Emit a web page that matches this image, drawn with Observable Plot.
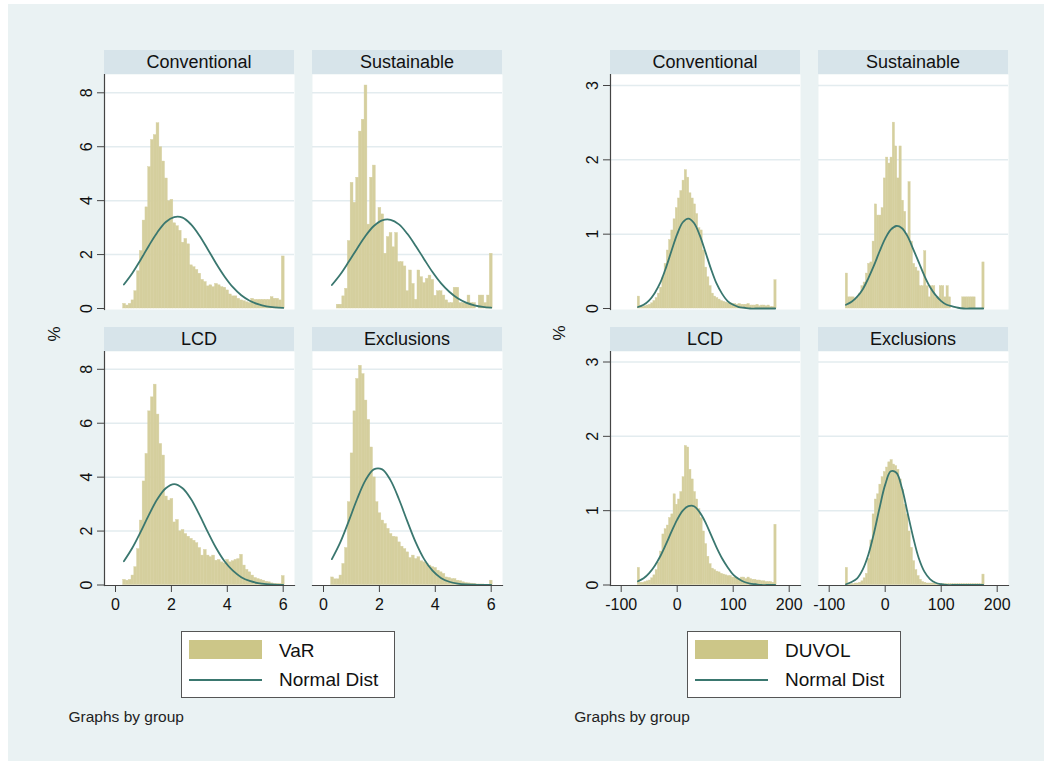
<!DOCTYPE html>
<html><head><meta charset="utf-8">
<script src="https://cdn.jsdelivr.net/npm/d3@7"></script>
<script src="https://cdn.jsdelivr.net/npm/@observablehq/plot@0.6"></script>
<style>
html,body{margin:0;padding:0;background:#fff;}
#page{position:relative;width:1044px;height:761px;background:#fff;overflow:hidden;font-family:"Liberation Sans",Arial,sans-serif;color:#111;}
#bg{position:absolute;left:8px;top:4px;width:1036px;height:757px;background:#eaf2f3;}
.hdr{position:absolute;background:#d7e4ea;font-size:18px;text-align:center;line-height:24px;height:24px;color:#111;}
.ylab{position:absolute;font-size:17px;transform:translate(-50%,-50%) rotate(-90deg);color:#111;}
.legend{position:absolute;background:#fff;border:1.5px solid #555;box-sizing:border-box;}
.ltxt{position:absolute;font-size:19px;line-height:22px;height:22px;color:#111;white-space:nowrap;}
.note{position:absolute;font-size:15.5px;line-height:20px;height:20px;color:#222;white-space:nowrap;}
</style></head>
<body><div id="page"><div id="bg"></div></div>
<script>
// ---------------- DATA ----------------
const groups = ["Conventional", "Sustainable", "LCD", "Exclusions"];

// VaR histograms (percent per bin), common bins
const varBinStart = 0.275;
const varBinWidth = 0.0996;
const varConventional = [0.17,0.11,0.17,0.3,0.64,1.38,2.13,3.26,3.75,5.24,6.25,6.43,6.87,5.98,5.45,4.82,3.98,4.03,3.16,3.05,2.88,2.44,2.58,2.38,1.6,1.53,1.43,1.29,1.06,0.98,0.82,0.86,0.79,0.91,0.86,0.79,0.77,0.67,0.52,0.45,0.45,0.36,0.3,0.27,0.23,0.2,0.36,0.32,0.32,0.32,0.32,0.32,0.32,0.42,0.36,0.36,0.3,1.93];
const varSustainable = [0,0,0.14,0.14,0.45,0.73,2.5,4.66,3.92,4.85,6.56,7.0,8.27,3.11,4.85,5.3,3.11,3.73,3.49,2.03,2.65,2.8,2.27,2.8,1.72,1.72,1.56,0.64,1.41,0.91,0.32,1.41,1.16,0.94,1.1,1.22,1.06,0.47,0.64,0.64,0.48,0.3,0.2,0.2,0.77,0.77,0.2,0.2,0.2,0.48,0.2,0.2,0,0.48,0.48,0.2,0.48,2.03];
const varLCD = [0.19,0.16,0.19,0.35,0.66,1.33,2.39,3.84,4.86,6.44,6.96,7.43,6.32,5.23,4.8,3.28,3.13,3.19,2.32,2.41,1.99,2.04,1.89,1.79,1.71,1.64,1.55,1.37,1.09,1.3,1.09,1.03,1.09,0.9,0.93,0.84,0.8,0.93,0.84,0.88,0.93,0.96,1.12,0.72,0.56,0.47,0.35,0.26,0.22,0.19,0.16,0.12,0.1,0.06,0.04,0.04,0.04,0.33];
const varExclusions = [0.28,0.21,0.21,0.35,0.78,1.37,3.07,4.88,6.44,7.64,8.13,7.82,6.84,6.12,5.1,3.99,3.07,2.66,2.39,2.26,2.08,1.89,1.79,1.77,1.58,1.42,1.33,1.21,1.0,1.09,0.96,1.03,0.88,0.84,0.78,0.72,0.66,0.63,0.53,0.47,0.41,0.28,0.26,0.22,0.22,0.16,0.14,0.1,0.07,0.06,0.05,0.04,0.02,0.02,0.02,0.01,0.01,0.16];

// VaR normal-curve points
const varCurveX = [0.3,0.6,0.9,1.2,1.5,1.8,2.1,2.4,2.7,3.0,3.3,3.6,3.9,4.2,4.5,4.8,5.1,5.4,5.7,6.0];
const varCurveConventional = [0.89,1.31,1.81,2.34,2.83,3.21,3.39,3.37,3.12,2.71,2.20,1.67,1.19,0.79,0.49,0.29,0.16,0.08,0.04,0.02];
const varCurveSustainable = [0.87,1.26,1.73,2.22,2.69,3.06,3.27,3.29,3.12,2.77,2.32,1.83,1.35,0.94,0.62,0.38,0.22,0.12,0.06,0.03];
const varCurveLCD = [0.88,1.37,1.97,2.61,3.19,3.59,3.74,3.59,3.19,2.61,1.97,1.37,0.88,0.53,0.29,0.15,0.07,0.03,0.01,0.0];
const varCurveExclusions = [0.96,1.58,2.36,3.18,3.88,4.29,4.29,3.88,3.18,2.36,1.58,0.96,0.53,0.26,0.12,0.05,0.02,0.01,0.0,0.0];

// DUVOL histograms
const duvolBinStart = -70.5;
const duvolBinWidth = 4;
const duvolConventional = [0.16,0.02,0.02,0.03,0.04,0.05,0.07,0.1,0.14,0.2,0.28,0.42,0.6,0.78,0.92,1.05,1.2,1.35,1.48,1.58,1.72,1.86,1.76,1.55,1.48,1.4,1.27,1.08,1.05,0.78,0.55,0.42,0.3,0.2,0.16,0.14,0.12,0.1,0.09,0.08,0.07,0.07,0.06,0.06,0.05,0.06,0.05,0.05,0.05,0.06,0.04,0.04,0.04,0.05,0.03,0.04,0.04,0.03,0.04,0.02,0.02,0.38];
const duvolSustainable = [0.47,0.15,0.15,0.15,0.12,0.15,0.2,0.3,0.35,0.47,0.6,0.62,0.9,1.4,1.25,1.25,1.35,1.75,2.03,1.95,2.03,2.5,2.18,1.75,2.18,1.45,1.3,1.0,1.7,0.9,0.6,0.55,0.5,0.3,0.3,0.77,0.3,0.15,0.3,0.3,0.15,0.15,0.3,0.3,0.15,0.3,0.15,0,0,0,0,0,0.15,0.15,0.15,0.15,0.15,0.15,0,0,0,0.62];
const duvolLCD = [0.23,0.03,0.03,0.04,0.05,0.06,0.09,0.13,0.2,0.3,0.45,0.68,0.75,0.8,0.9,0.95,1.22,1.08,1.15,1.25,1.45,1.87,1.85,1.55,1.42,1.25,1.15,1.02,0.9,0.72,0.55,0.38,0.28,0.22,0.2,0.18,0.17,0.15,0.14,0.13,0.12,0.12,0.1,0.1,0.09,0.08,0.1,0.1,0.08,0.1,0.08,0.07,0.07,0.06,0.06,0.05,0.05,0.04,0.04,0.04,0.03,0.81];
const duvolExclusions = [0.23,0.01,0.01,0.01,0.02,0.02,0.03,0.05,0.09,0.15,0.35,0.6,0.95,1.15,1.22,1.35,1.45,1.52,1.58,1.65,1.68,1.62,1.6,1.55,1.42,1.28,1.08,0.95,0.72,0.5,0.32,0.2,0.12,0.07,0.04,0.03,0.02,0.02,0.02,0.02,0.01,0.01,0.01,0.01,0.01,0.01,0.01,0.01,0.01,0.01,0.01,0.01,0.01,0.01,0.01,0.01,0.01,0.01,0.01,0.01,0.01,0.14];

// DUVOL normal-curve points
const duvolCurveX = [-70,-60,-50,-40,-30,-20,-10,0,10,20,30,40,50,60,70,80,90,100,110,120,130,140,150,160,170,175];
const duvolCurveConventional = [0.02,0.05,0.11,0.21,0.35,0.55,0.78,1.00,1.16,1.21,1.15,0.99,0.77,0.54,0.34,0.20,0.10,0.05,0.02,0.01,0,0,0,0,0,0];
const duvolCurveSustainable = [0.05,0.09,0.16,0.26,0.41,0.58,0.77,0.94,1.06,1.11,1.08,0.97,0.80,0.62,0.44,0.29,0.18,0.10,0.05,0.03,0.01,0,0,0,0,0];
const duvolCurveLCD = [0.05,0.09,0.16,0.26,0.39,0.55,0.72,0.88,1.00,1.06,1.06,0.98,0.85,0.68,0.51,0.36,0.24,0.14,0.08,0.04,0.02,0.01,0,0,0,0];
const duvolCurveExclusions = [0.01,0.04,0.09,0.21,0.41,0.70,1.04,1.35,1.53,1.51,1.30,0.97,0.64,0.36,0.18,0.08,0.03,0.01,0,0,0,0,0,0,0,0];

// Axis ticks and labels
const varXTicks = [0, 2, 4, 6];
const varYTicks = [0, 2, 4, 6, 8];
const duvolXTicks = [-100, 0, 100, 200];
const duvolYTicks = [0, 1, 2, 3];
const yLabel = "%";
const legendBar = ["VaR", "DUVOL"];
const legendLine = "Normal Dist";
const noteText = "Graphs by group";

// ---------------- STYLE ----------------
const BAR = "#d5cf9e";
const LINE = "#3a776f";
const AXIS = "#444";
const GRID = "#e3ecef";

const page = document.getElementById("page");

function binsOf(values, start, width) {
  return values.map((h, i) => ({x1: start + i * width, x2: start + (i + 1) * width, h}));
}
function curveOf(xs, ys) {
  return xs.map((x, i) => ({x, y: ys[i]}));
}

function facet(cfg) {
  const mL = cfg.showY ? 60 : 0;
  const mB = cfg.showX ? 40 : 0;
  const W = cfg.plotW, H = cfg.plotH;
  const chart = Plot.plot({
    width: mL + W,
    height: H + mB,
    marginLeft: mL, marginRight: 0, marginTop: 0, marginBottom: mB,
    style: {background: "transparent", fontFamily: "'Liberation Sans', Arial, sans-serif", fontSize: "16px", color: "#111", overflow: "visible"},
    x: {domain: cfg.xDom, range: [mL + cfg.xR[0], mL + cfg.xR[1]], axis: null},
    y: {domain: cfg.yDom, range: cfg.yR, axis: null},
    marks: [
      Plot.frame({fill: "white"}),
      Plot.gridY(cfg.yTicks.filter(t => t !== 0), {stroke: GRID, strokeOpacity: 1, strokeWidth: 1.5}),
      Plot.rect(cfg.bins, {x1: "x1", x2: "x2", y1: 0, y2: "h", fill: BAR, stroke: BAR, strokeWidth: 0.45, strokeOpacity: 0.9}),
      Plot.line(cfg.curve, {x: "x", y: "y", stroke: LINE, strokeWidth: 1.8, curve: "catmull-rom"}),
      cfg.showY ? Plot.frame({anchor: "left", stroke: AXIS, strokeWidth: 1.2}) : null,
      cfg.showY ? Plot.axisY(cfg.yTicks, {anchor: "left", tickSize: 7, tickRotate: -90, tickPadding: 6, fontSize: 16, stroke: AXIS, fill: "#111", label: null, tickFormat: d => String(d)}) : null,
      cfg.showX ? Plot.frame({anchor: "bottom", stroke: AXIS, strokeWidth: 1.2}) : null,
      cfg.showX ? Plot.axisX(cfg.xTicks, {anchor: "bottom", tickSize: 7, tickPadding: 6, fontSize: 16, stroke: AXIS, fill: "#111", label: null, tickFormat: d => String(d)}) : null
    ]
  });
  chart.style.position = "absolute";
  chart.style.left = (cfg.left - mL) + "px";
  chart.style.top = cfg.top + "px";
  chart.style.maxWidth = "none";
  page.appendChild(chart);

  const h = document.createElement("div");
  h.className = "hdr";
  h.style.left = cfg.left + "px";
  h.style.top = (cfg.top - 24.5) + "px";
  h.style.width = W + "px";
  h.textContent = cfg.title;
  page.appendChild(h);
}

const rows = [{top: 74, plotH: 235, y0: 234}, {top: 351, plotH: 234, y0: 233.5}];
const varSeries = [varConventional, varSustainable, varLCD, varExclusions];
const varCurves = [varCurveConventional, varCurveSustainable, varCurveLCD, varCurveExclusions];
const duvolSeries = [duvolConventional, duvolSustainable, duvolLCD, duvolExclusions];
const duvolCurves = [duvolCurveConventional, duvolCurveSustainable, duvolCurveLCD, duvolCurveExclusions];

const panels = [
  {lefts: [104, 312], xDom: [0, 6], xR: [11, 178.7], yDom: [0, 8], yTopPx: 215.7,
   xTicks: varXTicks, yTicks: varYTicks, series: varSeries, curves: varCurves,
   start: varBinStart, width: varBinWidth, cx: varCurveX},
  {lefts: [610, 818], xDom: [-100, 200], xR: [10.7, 178.7], yDom: [0, 3], yTopPx: 223,
   xTicks: duvolXTicks, yTicks: duvolYTicks, series: duvolSeries, curves: duvolCurves,
   start: duvolBinStart, width: duvolBinWidth, cx: duvolCurveX}
];

panels.forEach(p => {
  groups.forEach((g, gi) => {
    const r = Math.floor(gi / 2), c = gi % 2;
    const row = rows[r];
    facet({
      title: g,
      left: p.lefts[c], top: row.top, plotW: 190, plotH: row.plotH,
      showY: c === 0, showX: r === 1,
      xDom: p.xDom, xR: p.xR,
      yDom: p.yDom, yR: [row.y0, row.y0 - p.yTopPx],
      xTicks: p.xTicks, yTicks: p.yTicks,
      bins: binsOf(p.series[gi], p.start, p.width),
      curve: curveOf(p.cx, p.curves[gi])
    });
  });
});

// y-axis titles
[[54.5, 333.5], [560, 333]].forEach(([x, y]) => {
  const d = document.createElement("div");
  d.className = "ylab";
  d.style.left = x + "px"; d.style.top = y + "px";
  d.textContent = yLabel;
  page.appendChild(d);
});

// legends and notes
[{box: 181, sw: 189, tx: 279, note: 68.5, label: legendBar[0]},
 {box: 687, sw: 695, tx: 785, note: 574.3, label: legendBar[1]}].forEach(L => {
  const b = document.createElement("div");
  b.className = "legend";
  b.style.left = L.box + "px"; b.style.top = "631px";
  b.style.width = "214px"; b.style.height = "67px";
  page.appendChild(b);
  const s = document.createElement("div");
  s.style.cssText = `position:absolute;left:${L.sw}px;top:640px;width:73px;height:19px;background:#ccc688;`;
  page.appendChild(s);
  const ln = document.createElement("div");
  ln.style.cssText = `position:absolute;left:${L.sw}px;top:679px;width:73px;height:2px;background:${LINE};`;
  page.appendChild(ln);
  const t1 = document.createElement("div");
  t1.className = "ltxt"; t1.style.left = L.tx + "px"; t1.style.top = "639.5px"; t1.textContent = L.label;
  page.appendChild(t1);
  const t2 = document.createElement("div");
  t2.className = "ltxt"; t2.style.left = L.tx + "px"; t2.style.top = "669px"; t2.textContent = legendLine;
  page.appendChild(t2);
  const n = document.createElement("div");
  n.className = "note"; n.style.left = L.note + "px"; n.style.top = "706.5px"; n.textContent = noteText;
  page.appendChild(n);
});
</script></body></html>
